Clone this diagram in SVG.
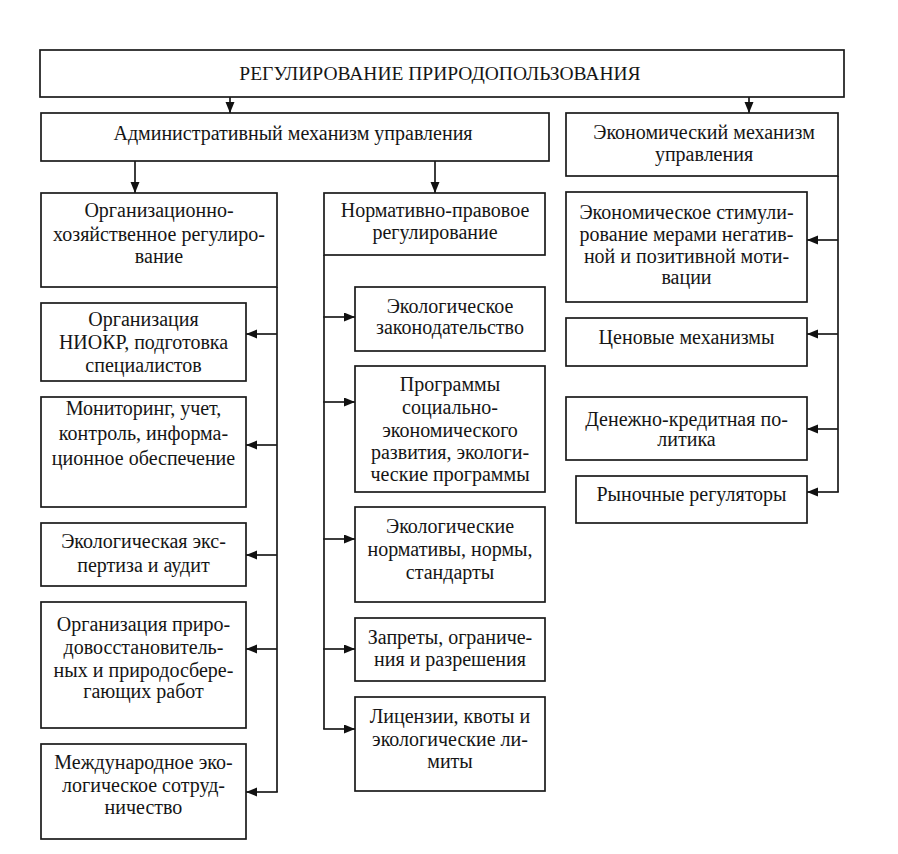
<svg xmlns="http://www.w3.org/2000/svg" width="898" height="854" viewBox="0 0 898 854">
<style>
.b{fill:#fff;stroke:#1a1a1a;stroke-width:1.7}
.t{font-family:"Liberation Serif","Times New Roman",serif;font-size:20px;fill:#151515;text-anchor:middle}
.h{font-family:"Liberation Serif","Times New Roman",serif;font-size:19.5px;fill:#151515;text-anchor:middle}
.c{fill:none;stroke:#1a1a1a;stroke-width:1.7}
</style>
<defs>
<marker id="a" markerUnits="userSpaceOnUse" markerWidth="12" markerHeight="10" refX="11" refY="4.5" orient="auto">
<path d="M0,0 L11,4.5 L0,9 z" fill="#111"/>
</marker>
</defs>
<rect width="898" height="854" fill="#fff"/>
<g id="connectors">
<line class="c" x1="230" y1="97" x2="230" y2="113" marker-end="url(#a)"/>
<line class="c" x1="749" y1="97" x2="749" y2="113" marker-end="url(#a)"/>
<line class="c" x1="135" y1="161" x2="135" y2="193" marker-end="url(#a)"/>
<line class="c" x1="435" y1="161" x2="435" y2="193" marker-end="url(#a)"/>
<line class="c" x1="277" y1="287" x2="277" y2="792"/>
<line class="c" x1="277" y1="334" x2="246" y2="334" marker-end="url(#a)"/>
<line class="c" x1="277" y1="445" x2="246" y2="445" marker-end="url(#a)"/>
<line class="c" x1="277" y1="555" x2="246" y2="555" marker-end="url(#a)"/>
<line class="c" x1="277" y1="649" x2="246" y2="649" marker-end="url(#a)"/>
<line class="c" x1="277.8" y1="792" x2="246" y2="792" marker-end="url(#a)"/>
<line class="c" x1="324" y1="255" x2="324" y2="729"/>
<line class="c" x1="323.2" y1="317" x2="355" y2="317" marker-end="url(#a)"/>
<line class="c" x1="323.2" y1="402" x2="355" y2="402" marker-end="url(#a)"/>
<line class="c" x1="323.2" y1="539" x2="355" y2="539" marker-end="url(#a)"/>
<line class="c" x1="323.2" y1="649" x2="355" y2="649" marker-end="url(#a)"/>
<line class="c" x1="323.2" y1="729" x2="355" y2="729" marker-end="url(#a)"/>
<line class="c" x1="838" y1="176" x2="838" y2="492"/>
<line class="c" x1="838" y1="240" x2="807" y2="240" marker-end="url(#a)"/>
<line class="c" x1="838" y1="334" x2="807" y2="334" marker-end="url(#a)"/>
<line class="c" x1="838" y1="429" x2="807" y2="429" marker-end="url(#a)"/>
<line class="c" x1="838.8" y1="492" x2="807" y2="492" marker-end="url(#a)"/>
</g>
<g id="n-root">
<rect class="b" x="40" y="50" width="804" height="47"/>
<text class="h" x="440" y="80">РЕГУЛИРОВАНИЕ ПРИРОДОПОЛЬЗОВАНИЯ</text>
</g>
<g id="n-admin">
<rect class="b" x="41" y="113" width="508" height="48"/>
<text class="t" x="293" y="140">Административный механизм управления</text>
</g>
<g id="n-econ">
<rect class="b" x="566" y="113" width="272" height="63"/>
<text class="t" x="704" y="139">Экономический механизм</text>
<text class="t" x="704" y="161">управления</text>
</g>
<g id="n-org">
<rect class="b" x="41" y="193" width="236" height="94"/>
<text class="t" x="159" y="217">Организационно-</text>
<text class="t" x="159" y="241">хозяйственное регулиро-</text>
<text class="t" x="159" y="263">вание</text>
</g>
<g id="n-niokr">
<rect class="b" x="41" y="303" width="205" height="78"/>
<text class="t" x="143.5" y="326">Организация</text>
<text class="t" x="143.5" y="349">НИОКР, подготовка</text>
<text class="t" x="143.5" y="372">специалистов</text>
</g>
<g id="n-monitor">
<rect class="b" x="41" y="397" width="205" height="110"/>
<text class="t" x="143.5" y="415">Мониторинг, учет,</text>
<text class="t" x="143.5" y="440">контроль, информа-</text>
<text class="t" x="143.5" y="465">ционное обеспечение</text>
</g>
<g id="n-expert">
<rect class="b" x="41" y="523" width="205" height="63"/>
<text class="t" x="143.5" y="548">Экологическая экс-</text>
<text class="t" x="143.5" y="572">пертиза и аудит</text>
</g>
<g id="n-works">
<rect class="b" x="41" y="602" width="205" height="126"/>
<text class="t" x="143.5" y="631">Организация приро-</text>
<text class="t" x="143.5" y="654">довосстановитель-</text>
<text class="t" x="143.5" y="677">ных и природосбере-</text>
<text class="t" x="143.5" y="698">гающих работ</text>
</g>
<g id="n-intl">
<rect class="b" x="41" y="744" width="205" height="95"/>
<text class="t" x="143.5" y="769">Международное эко-</text>
<text class="t" x="143.5" y="792">логическое сотруд-</text>
<text class="t" x="143.5" y="814">ничество</text>
</g>
<g id="n-norm">
<rect class="b" x="324" y="193" width="221" height="62"/>
<text class="t" x="435" y="217">Нормативно-правовое</text>
<text class="t" x="435" y="239">регулирование</text>
</g>
<g id="n-law">
<rect class="b" x="355" y="287" width="190" height="64"/>
<text class="t" x="450" y="313">Экологическое</text>
<text class="t" x="450" y="334">законодательство</text>
</g>
<g id="n-programs">
<rect class="b" x="355" y="366" width="190" height="126"/>
<text class="t" x="450" y="391">Программы</text>
<text class="t" x="450" y="414">социально-</text>
<text class="t" x="450" y="437">экономического</text>
<text class="t" x="450" y="459">развития, экологи-</text>
<text class="t" x="450" y="481">ческие программы</text>
</g>
<g id="n-standards">
<rect class="b" x="355" y="507" width="190" height="95"/>
<text class="t" x="450" y="533">Экологические</text>
<text class="t" x="450" y="556">нормативы, нормы,</text>
<text class="t" x="450" y="579">стандарты</text>
</g>
<g id="n-bans">
<rect class="b" x="355" y="618" width="190" height="63"/>
<text class="t" x="450" y="644">Запреты, ограниче-</text>
<text class="t" x="450" y="666">ния и разрешения</text>
</g>
<g id="n-licenses">
<rect class="b" x="355" y="697" width="190" height="94"/>
<text class="t" x="450" y="723">Лицензии, квоты и</text>
<text class="t" x="450" y="746">экологические ли-</text>
<text class="t" x="450" y="768">миты</text>
</g>
<g id="n-stim">
<rect class="b" x="566" y="192" width="241" height="110"/>
<text class="t" x="686.5" y="219">Экономическое стимули-</text>
<text class="t" x="686.5" y="241">рование мерами негатив-</text>
<text class="t" x="686.5" y="263">ной и позитивной моти-</text>
<text class="t" x="686.5" y="284">вации</text>
</g>
<g id="n-price">
<rect class="b" x="566" y="318" width="241" height="48"/>
<text class="t" x="686.5" y="344">Ценовые механизмы</text>
</g>
<g id="n-money">
<rect class="b" x="566" y="397" width="241" height="63"/>
<text class="t" x="686.5" y="426">Денежно-кредитная по-</text>
<text class="t" x="686.5" y="446">литика</text>
</g>
<g id="n-market">
<rect class="b" x="576" y="476" width="231" height="47"/>
<text class="t" x="691.5" y="501">Рыночные регуляторы</text>
</g>
</svg>
